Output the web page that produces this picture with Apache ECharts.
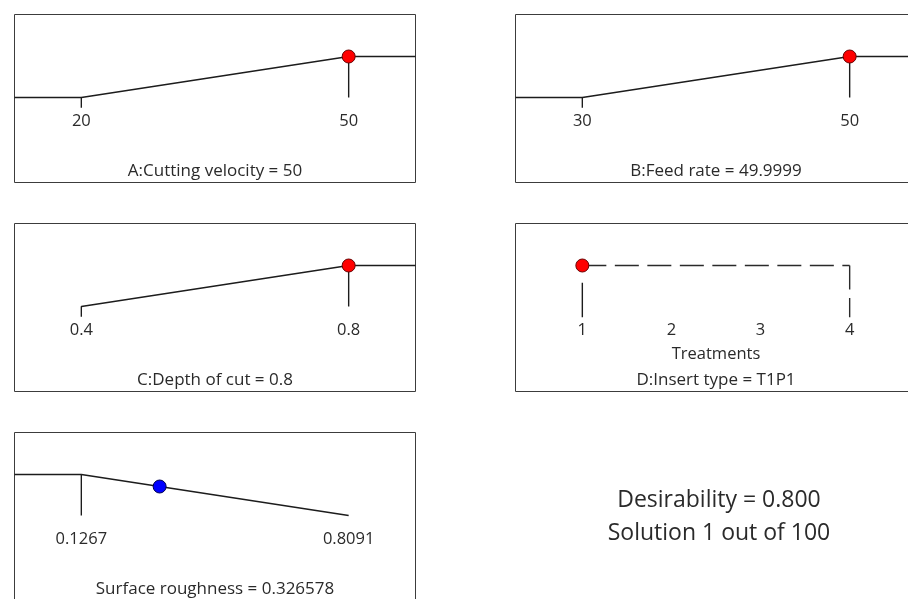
<!DOCTYPE html>
<html><head><meta charset="utf-8">
<script src="https://cdn.jsdelivr.net/npm/echarts@6.0.0/dist/echarts.min.js"></script>
<style>html,body{margin:0;padding:0;background:#fff}#c{width:908px;height:599px}</style>
</head><body><div id="c"></div>
<script>
// ---------------- data ----------------
const factorNames = ['A:Cutting velocity', 'B:Feed rate', 'C:Depth of cut'];
const factorLow = [20, 30, 0.4];
const factorHigh = [50, 50, 0.8];
const factorValue = [50, 49.9999, 0.8];
const factorTickLabels = [['20', '50'], ['30', '50'], ['0.4', '0.8']];
const factorLowTail = [true, true, false];
const categoricalName = 'D:Insert type';
const categoricalLevels = [1, 2, 3, 4];
const categoricalTickLabels = ['1', '2', '3', '4'];
const categoricalAxisName = 'Treatments';
const categoricalValue = 1;
const categoricalValueLabel = 'T1P1';
const responseName = 'Surface roughness';
const responseLow = 0.1267;
const responseHigh = 0.8091;
const responseValue = 0.326578;
const responseTickLabels = ['0.1267', '0.8091'];
const desirability = 0.800;
const solutionIndex = 1;
const solutionCount = 100;

// ---------------- layout ----------------
const FONT = '"Open Sans", "Noto Sans", sans-serif';
const TXT = '#2a2a2a';
const LINE = '#1c1c1c';
const boxes = [
  {left: 14.5, top: 14.5}, {left: 515.5, top: 14.5},
  {left: 14.5, top: 223.5}, {left: 515.5, top: 223.5},
  {left: 14.5, top: 432.5}
];
const W = 401, H = 168, D1 = 42, D0 = 83;
const yMax = 1 + D1 / (D0 - D1), yMin = -(H - D0) / (D0 - D1);
const TICK = -0.25;

function range(lo, hi) { const s = hi - lo; return [lo - 0.25 * s, hi + 0.25 * s]; }

const grids = [], xAxes = [], yAxes = [], series = [], titles = [];

function lineSeries(i, data, extra) {
  series.push(Object.assign({
    type: 'line', xAxisIndex: i, yAxisIndex: i, data: data,
    symbol: 'none', showSymbol: false, silent: true, z: 2,
    lineStyle: {color: LINE, width: 1.4}
  }, extra || {}));
}
function pointSeries(i, data, color, border) {
  series.push({
    type: 'scatter', xAxisIndex: i, yAxisIndex: i, data: data, symbolSize: 13, z: 5, silent: true,
    itemStyle: {color: color, borderColor: border, borderWidth: 1, opacity: 1}
  });
}
function addPanel(i, xr, tickVals, tickLabels, titleText, axisName) {
  const b = boxes[i];
  grids.push({left: b.left, top: b.top, width: W, height: H, show: true,
    borderColor: '#3c3c3c', borderWidth: 1, backgroundColor: 'transparent', outerBoundsMode: 'none'});
  xAxes.push({
    type: 'value', gridIndex: i, min: xr[0], max: xr[1], position: 'bottom',
    offset: -(H - D0),
    axisLine: {show: false, onZero: false}, axisTick: {show: false}, splitLine: {show: false},
    axisLabel: {
      customValues: tickVals, margin: 15, color: TXT, fontFamily: FONT, fontSize: 16.5,
      formatter: function (v) {
        let k = 0, best = Infinity;
        tickVals.forEach(function (t, j) { const d = Math.abs(t - v); if (d < best) { best = d; k = j; } });
        return tickLabels[k];
      }
    },
    name: axisName || '', nameLocation: 'middle', nameGap: 39,
    nameTextStyle: {color: TXT, fontFamily: FONT, fontSize: 16.5}
  });
  yAxes.push({type: 'value', gridIndex: i, min: yMin, max: yMax, show: false});
  titles.push({
    text: titleText, left: b.left + W / 2, top: b.top + 156.5, textAlign: 'center', textVerticalAlign: 'middle',
    padding: 0, textStyle: {color: TXT, fontFamily: FONT, fontSize: 17, fontWeight: 'normal'}
  });
}

// numeric factors (maximize)
for (let f = 0; f < 3; f++) {
  const lo = factorLow[f], hi = factorHigh[f], xr = range(lo, hi);
  addPanel(f, xr, [lo, hi], factorTickLabels[f], factorNames[f] + ' = ' + factorValue[f]);
  if (factorLowTail[f]) lineSeries(f, [[xr[0], 0], [lo, 0]]);
  lineSeries(f, [[lo, TICK], [lo, 0], [hi, 1], [xr[1], 1]]);
  lineSeries(f, [[hi, 1], [hi, 0]]);
  const d = Math.max(0, Math.min(1, (factorValue[f] - lo) / (hi - lo)));
  pointSeries(f, [[factorValue[f], d]], '#ff0000', '#6a0000');
}

// categorical factor
{
  const lo = categoricalLevels[0], hi = categoricalLevels[categoricalLevels.length - 1];
  addPanel(3, range(lo, hi), categoricalLevels, categoricalTickLabels,
    categoricalName + ' = ' + categoricalValueLabel, categoricalAxisName);
  const dash = {color: '#2a2a2a', width: 1.4, type: [24, 8.5]};
  lineSeries(3, [[categoricalValue, 1], [hi, 1]], {lineStyle: dash});
  lineSeries(3, [[hi, 1], [hi, TICK - 0.01]], {lineStyle: dash});
  lineSeries(3, [[categoricalValue, 0.58], [categoricalValue, TICK - 0.01]]);
  pointSeries(3, [[categoricalValue, 1]], '#ff0000', '#6a0000');
}

// response (minimize)
{
  const lo = responseLow, hi = responseHigh, xr = range(lo, hi);
  addPanel(4, xr, [lo, hi], responseTickLabels, responseName + ' = ' + responseValue);
  lineSeries(4, [[xr[0], 1], [lo, 1], [lo, 0]]);
  lineSeries(4, [[lo, 1], [hi, 0]]);
  const d = (hi - responseValue) / (hi - lo);
  pointSeries(4, [[responseValue, d]], '#0000ff', '#000050');
}

// summary text
titles.push({
  text: 'Desirability = ' + desirability.toFixed(3), left: 719, top: 500,
  textAlign: 'center', textVerticalAlign: 'middle', padding: 0,
  textStyle: {color: TXT, fontFamily: FONT, fontSize: 23, fontWeight: 'normal'}
});
titles.push({
  text: 'Solution ' + solutionIndex + ' out of ' + solutionCount, left: 719, top: 533,
  textAlign: 'center', textVerticalAlign: 'middle', padding: 0,
  textStyle: {color: TXT, fontFamily: FONT, fontSize: 23, fontWeight: 'normal'}
});

const chart = echarts.init(document.getElementById('c'), null, {renderer: 'canvas'});
chart.setOption({
  animation: false, backgroundColor: '#fff',
  title: titles, grid: grids, xAxis: xAxes, yAxis: yAxes, series: series
});
</script></body></html>
